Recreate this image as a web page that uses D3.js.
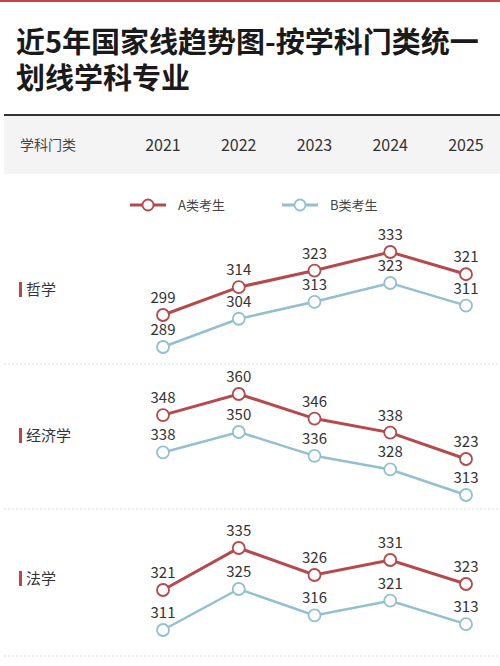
<!DOCTYPE html>
<html><head><meta charset="utf-8">
<script src="https://cdn.jsdelivr.net/npm/d3@7/dist/d3.min.js"></script>
<style>body{margin:0;background:#fff;}svg{display:block;font-family:"Noto Sans CJK SC","Noto Sans",sans-serif;}</style>
</head><body>
<script>
const years = ["2021","2022","2023","2024","2025"];
const categories = ["哲学","经济学","法学"];
const seriesNames = ["A类考生","B类考生"];
const valuesA = [[299,314,323,333,321],[348,360,346,338,323],[321,335,326,331,323]];
const valuesB = [[289,304,313,323,311],[338,350,336,328,313],[311,325,316,321,313]];

const W=500,H=666;
const colA="#b5494b", colB="#93c0cf";
const svg=d3.select("body").append("svg").attr("width",W).attr("height",H);
svg.append("rect").attr("x",0).attr("y",0).attr("width",W).attr("height",2).attr("fill","#c0454a");
svg.append("text").attr("x",16).attr("y",53).attr("font-size",29).attr("font-weight",700).attr("fill","#1a1a1a").text("近5年国家线趋势图-按学科门类统一");
svg.append("text").attr("x",16).attr("y",89).attr("font-size",29).attr("font-weight",700).attr("fill","#1a1a1a").text("划线学科专业");
svg.append("rect").attr("x",4).attr("y",116).attr("width",W-4).attr("height",58).attr("fill","#f4f4f4");
svg.append("rect").attr("x",4).attr("y",114).attr("width",W-4).attr("height",2).attr("fill","#333");
svg.append("text").attr("x",20).attr("y",150).attr("font-size",14).attr("fill","#444").text("学科门类");

const x=d3.scalePoint().domain(years).range([163,466]);
svg.selectAll(".yr").data(years).join("text").attr("x",d=>x(d)).attr("y",151)
  .attr("text-anchor","middle").attr("font-size",16).attr("fill","#333").text(d=>d);

const leg=[{n:seriesNames[0],c:colA,x0:130},{n:seriesNames[1],c:colB,x0:282}];
leg.forEach(l=>{
  svg.append("line").attr("x1",l.x0).attr("x2",l.x0+36).attr("y1",205).attr("y2",205).attr("stroke",l.c).attr("stroke-width",3);
  svg.append("circle").attr("cx",l.x0+18).attr("cy",205).attr("r",5.5).attr("fill","#fff").attr("stroke",l.c).attr("stroke-width",1.8);
  svg.append("text").attr("x",l.x0+48).attr("y",210).attr("font-size",13).attr("fill","#444").text(l.n);
});

const bands=[
  {lab:295, a:[315,252], b:[347,283], sep:364},
  {lab:441, a:[459,394], b:[495,432], sep:509},
  {lab:584, a:[590,548], b:[630,589], sep:656}
];
categories.forEach((cat,i)=>{
  const bd=bands[i];
  svg.append("line").attr("x1",4).attr("x2",W).attr("y1",bd.sep).attr("y2",bd.sep).attr("stroke","#ddd").attr("stroke-dasharray","2,2");
  svg.append("rect").attr("x",19).attr("y",bd.lab-13).attr("width",3).attr("height",15).attr("fill","#c0454a");
  svg.append("text").attr("x",26).attr("y",bd.lab).attr("font-size",15).attr("fill","#333").text(cat);
  [[valuesA[i],bd.a,colA,3],[valuesB[i],bd.b,colB,2.5]].forEach(([vals,rng,c,sw])=>{
    const y=d3.scaleLinear().domain(d3.extent(vals)).range(rng);
    const pts=vals.map((v,j)=>({x:x(years[j]),y:y(v),v}));
    svg.append("path").attr("d",d3.line().x(d=>d.x).y(d=>d.y)(pts)).attr("fill","none").attr("stroke",c).attr("stroke-width",sw);
    svg.selectAll(null).data(pts).join("circle").attr("cx",d=>d.x).attr("cy",d=>d.y).attr("r",6)
      .attr("fill","#fff").attr("stroke",c).attr("stroke-width",1.8);
    svg.selectAll(null).data(pts).join("text").attr("x",d=>d.x).attr("y",d=>d.y-12)
      .attr("text-anchor","middle").attr("font-size",15).attr("fill","#333").text(d=>d.v);
  });
});
</script>
</body></html>
